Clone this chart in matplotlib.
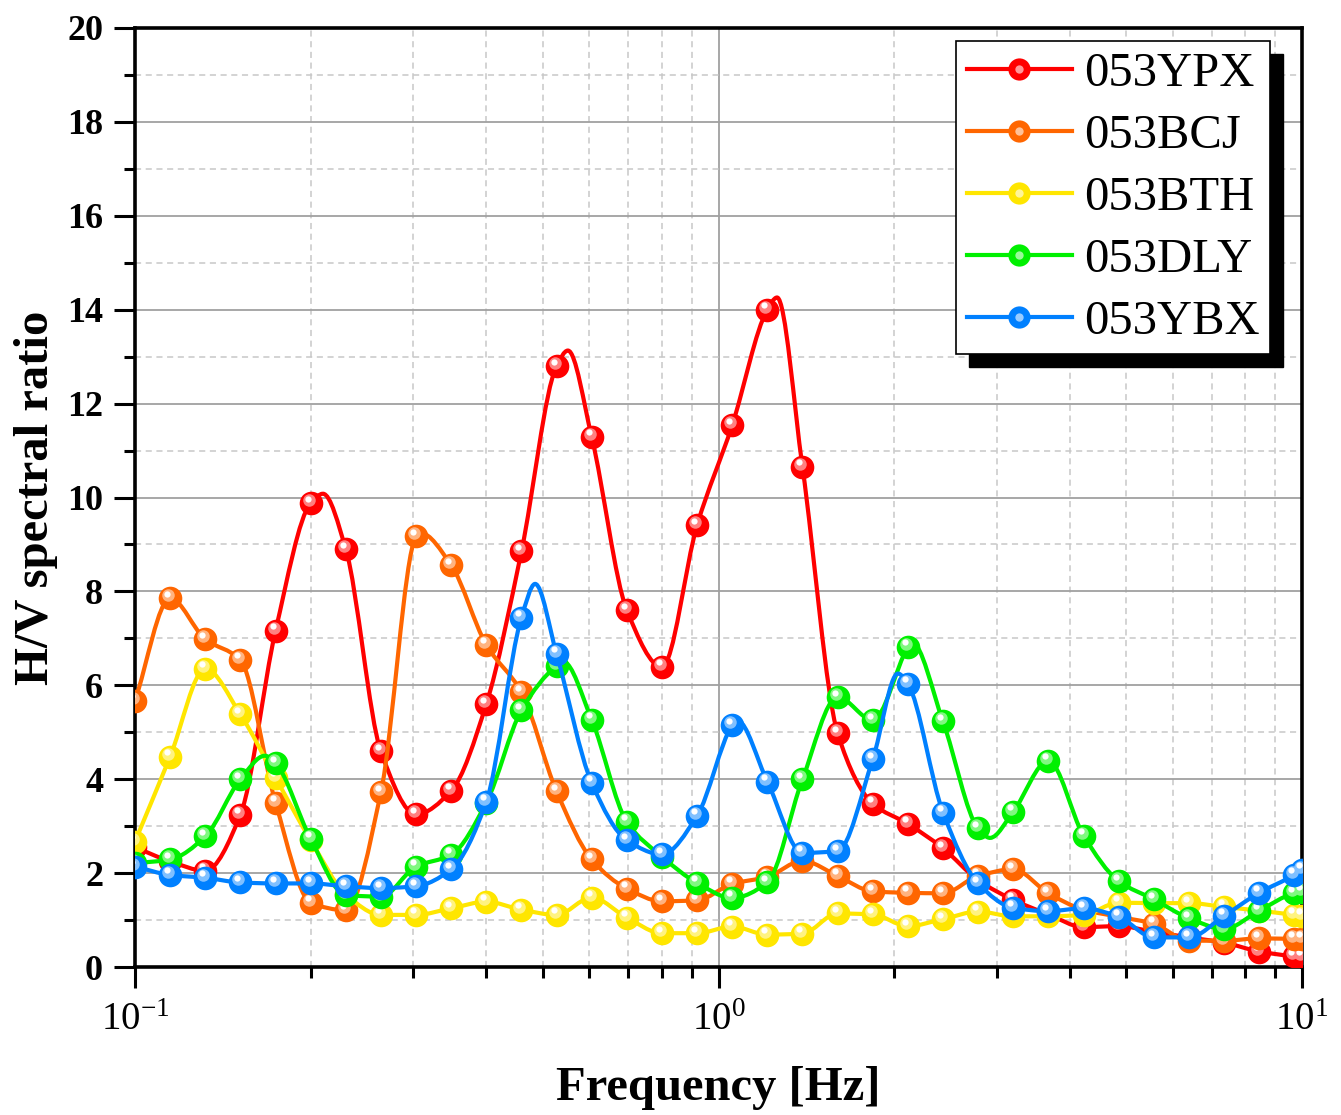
import numpy as np
import matplotlib
matplotlib.use("Agg")
import matplotlib.pyplot as plt
from matplotlib.path import Path
from matplotlib.patches import PathPatch, Rectangle
from matplotlib.lines import Line2D
from matplotlib.legend_handler import HandlerTuple
from matplotlib.transforms import ScaledTranslation
from matplotlib.ticker import MultipleLocator, LogLocator, NullFormatter

plt.rcParams['font.family'] = ['Liberation Serif', 'DejaVu Serif']
plt.rcParams['mathtext.fontset'] = 'custom'
plt.rcParams['mathtext.rm'] = 'Liberation Serif'
plt.rcParams['mathtext.it'] = 'Liberation Serif:italic'
plt.rcParams['mathtext.bf'] = 'Liberation Serif:bold'

# marker frequencies (Hz)
freq = [0.1, 0.11487, 0.13195, 0.15157, 0.17411, 0.2, 0.22974, 0.2639, 0.30314, 0.34822,
        0.4, 0.45948, 0.5278, 0.60629, 0.69644, 0.8, 0.91896, 1.05561, 1.21257, 1.39288,
        1.6, 1.83792, 2.11121, 2.42515, 2.78576, 3.2, 3.67583, 4.22243, 4.85029, 5.57152,
        6.4, 7.35167, 8.44485, 9.70059, 10.0]

names = ['053YPX', '053BCJ', '053BTH', '053DLY', '053YBX']
colors = ['#ff0000', '#ff6600', '#ffe600', '#00f000', '#0080ff']

ypx = [2.55, 2.25, 2.05, 3.24, 7.16, 9.88, 8.90, 4.59, 3.25, 3.75, 5.60, 8.85, 12.80, 11.29,
       7.60, 6.39, 9.41, 11.54, 14.00, 10.65, 4.98, 3.48, 3.05, 2.53, 1.85, 1.43, 1.12, 0.85,
       0.87, 0.75, 0.63, 0.52, 0.33, 0.23, 0.22]
bcj = [5.67, 7.85, 6.98, 6.54, 3.50, 1.37, 1.21, 3.72, 9.17, 8.56, 6.86, 5.85, 3.74, 2.29,
       1.67, 1.40, 1.42, 1.77, 1.92, 2.26, 1.94, 1.61, 1.58, 1.57, 1.94, 2.08, 1.57, 1.22,
       1.07, 0.92, 0.56, 0.56, 0.61, 0.60, 0.60]
bth = [2.67, 4.48, 6.35, 5.38, 4.03, 2.70, 1.55, 1.11, 1.11, 1.25, 1.39, 1.22, 1.11, 1.48,
       1.05, 0.72, 0.72, 0.86, 0.69, 0.71, 1.14, 1.12, 0.87, 1.02, 1.18, 1.08, 1.08, 1.11,
       1.37, 1.36, 1.36, 1.28, 1.20, 1.11, 1.09]
dly = [2.21, 2.29, 2.78, 4.00, 4.34, 2.73, 1.53, 1.50, 2.14, 2.39, 3.50, 5.47, 6.42, 5.27,
       3.09, 2.35, 1.79, 1.47, 1.80, 4.00, 5.75, 5.26, 6.82, 5.23, 2.95, 3.31, 4.39, 2.80,
       1.83, 1.44, 1.04, 0.81, 1.20, 1.57, 1.60]
ybx = [2.14, 1.96, 1.90, 1.80, 1.78, 1.78, 1.72, 1.68, 1.72, 2.08, 3.52, 7.44, 6.67, 3.92,
       2.70, 2.40, 3.22, 5.15, 3.95, 2.43, 2.47, 4.42, 6.03, 3.29, 1.78, 1.26, 1.19, 1.25,
       1.07, 0.63, 0.63, 1.09, 1.58, 1.96, 2.07]

# curve points between markers (peaks / dips)
ypx_extra_f = [0.210, 0.552, 1.26]
ypx_extra_v = [10.08, 13.13, 14.26]
bcj_extra_f = [0.308]
bcj_extra_v = [9.25]
bth_extra_f = []
bth_extra_v = []
dly_extra_f = [0.167, 0.541, 2.14, 2.92]
dly_extra_v = [4.50, 6.51, 6.93, 2.75]
ybx_extra_f = [0.485, 1.075, 2.03]
ybx_extra_v = [8.16, 5.26, 6.25]

series = [ypx, bcj, bth, dly, ybx]
extras = [(ypx_extra_f, ypx_extra_v), (bcj_extra_f, bcj_extra_v), (bth_extra_f, bth_extra_v),
          (dly_extra_f, dly_extra_v), (ybx_extra_f, ybx_extra_v)]

y_ticks = [0, 2, 4, 6, 8, 10, 12, 14, 16, 18, 20]


def slopes(x, y):
    h = np.diff(x)
    s = np.diff(y) / h
    m = np.zeros_like(y)
    for i in range(1, len(y) - 1):
        if s[i - 1] * s[i] > 0:
            w1 = 2 * h[i] + h[i - 1]
            w2 = h[i] + 2 * h[i - 1]
            m[i] = (w1 + w2) / (w1 / s[i - 1] + w2 / s[i])
    m[0] = s[0]
    m[-1] = s[-1]
    return m


def smooth_path(f, v):
    # cubic bezier through the points, built in log10(f) space
    x = np.log10(np.asarray(f, float))
    y = np.asarray(v, float)
    m = slopes(x, y)
    verts = [(x[0], y[0])]
    codes = [Path.MOVETO]
    for i in range(len(x) - 1):
        h = x[i + 1] - x[i]
        verts += [(x[i] + h / 3, y[i] + m[i] * h / 3),
                  (x[i + 1] - h / 3, y[i + 1] - m[i + 1] * h / 3),
                  (x[i + 1], y[i + 1])]
        codes += [Path.CURVE4] * 3
    verts = np.array(verts)
    verts[:, 0] = 10 ** verts[:, 0]
    return Path(verts, codes)


def lighten(c, amt):
    rgb = np.array(matplotlib.colors.to_rgb(c))
    return tuple(rgb + (1 - rgb) * amt)


fig = plt.figure(figsize=(13.41, 11.15), dpi=100)
ax = fig.add_axes([135 / 1341, 1 - 967 / 1115, 1167 / 1341, 939 / 1115])
ax.set_xscale('log')
ax.set_xlim(0.1, 10)
ax.set_ylim(0, 20)

hl1 = ax.transData + ScaledTranslation(-0.02, 0.03, fig.dpi_scale_trans)
hl2 = ax.transData + ScaledTranslation(-0.03, 0.045, fig.dpi_scale_trans)

handles = []
for i, (vals, (ef, ev), name, col) in enumerate(zip(series, extras, names, colors)):
    z = 3 + i
    pts = sorted(zip(freq + ef, vals + ev))
    lf = [p[0] for p in pts]
    lv = [p[1] for p in pts]
    ax.add_patch(PathPatch(smooth_path(lf, lv), facecolor='none', edgecolor=col, lw=3,
                           zorder=z, joinstyle='round', capstyle='round'))
    ax.plot(freq, vals, ls='none', marker='o', ms=17, mfc=col, mec=col, mew=0, zorder=z + 0.1)
    ax.plot(freq, vals, ls='none', marker='o', ms=9, mfc=lighten(col, 0.5), mew=0,
            zorder=z + 0.2, transform=hl1)
    ax.plot(freq, vals, ls='none', marker='o', ms=4.5, mfc='white', mew=0,
            zorder=z + 0.3, transform=hl2)
    h_line = Line2D([], [], color=col, lw=3, marker='o', ms=16, mfc=col, mew=0)
    h_hl = Line2D([], [], ls='none', marker='o', ms=6, mfc=lighten(col, 0.6), mew=0)
    handles.append((h_line, h_hl))

# ticks and grid
ax.yaxis.set_major_locator(MultipleLocator(2))
ax.yaxis.set_minor_locator(MultipleLocator(1))
ax.xaxis.set_major_locator(LogLocator(base=10))
ax.xaxis.set_minor_locator(LogLocator(base=10, subs=np.arange(2, 10)))
ax.xaxis.set_minor_formatter(NullFormatter())
ax.set_yticks(y_ticks)
ax.set_yticklabels([str(t) for t in y_ticks], fontweight='bold', fontsize=26)
ax.tick_params(axis='x', labelsize=28, pad=10)
ax.tick_params(axis='y', pad=8)
ax.tick_params(which='major', direction='out', length=15, width=2.2)
ax.tick_params(which='minor', direction='out', length=8, width=2.2)
ax.set_axisbelow(True)
ax.grid(which='major', color='#a0a0a0', lw=1.3, ls='-')
ax.grid(which='minor', color='#c8c8c8', lw=1.1, ls=(0, (4, 3)))
for sp in ax.spines.values():
    sp.set_linewidth(2.6)

ax.set_xlabel('Frequency [Hz]', fontsize=35, fontweight='bold')
ax.set_ylabel('H/V spectral ratio', fontsize=35, fontweight='bold')
ax.xaxis.set_label_coords(0.5, -0.105)
ax.yaxis.set_label_coords(-0.066, 0.5)

leg = ax.legend(handles, names, handler_map={tuple: HandlerTuple(ndivide=1, pad=0)},
                loc='upper right', bbox_to_anchor=(1270 / 1341, 1 - 41 / 1115),
                bbox_transform=fig.transFigure, borderaxespad=0, fontsize=35,
                handlelength=2.15, handletextpad=0.25, borderpad=0.22, labelspacing=0.37,
                fancybox=False, framealpha=1, edgecolor='black')
leg.get_frame().set_linewidth(1.2)
leg.set_zorder(20)

# hard black drop shadow behind the legend
fig.canvas.draw()
bb = leg.get_window_extent()
inv = ax.transAxes.inverted()
(x0, y0), (x1, y1) = inv.transform([(bb.x0 + 13, bb.y0 - 13), (bb.x1 + 13, bb.y1 - 13)])
ax.add_patch(Rectangle((x0, y0), x1 - x0, y1 - y0, transform=ax.transAxes, color='black',
                       zorder=19, clip_on=False))

fig.savefig('out.png', dpi=100)
